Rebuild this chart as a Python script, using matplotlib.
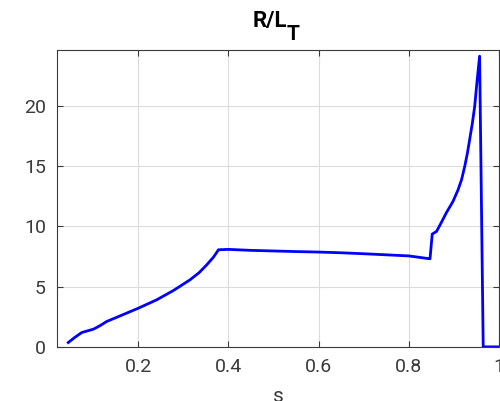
import matplotlib
matplotlib.use("Agg")
import matplotlib.pyplot as plt

# normalised radius and temperature gradient profile
s = [0.045, 0.060, 0.075, 0.101, 0.115, 0.130, 0.160, 0.200, 0.241, 0.278,
     0.315, 0.335, 0.352, 0.367, 0.378, 0.40, 0.45, 0.50, 0.55, 0.60,
     0.65, 0.70, 0.75, 0.80, 0.847, 0.852, 0.8615, 0.872, 0.883, 0.898,
     0.909, 0.917, 0.924, 0.930, 0.935, 0.941, 0.946, 0.951, 0.957, 0.965,
     0.98, 0.998]
rlt = [0.36, 0.8, 1.19, 1.47, 1.75, 2.1, 2.57, 3.2, 3.9, 4.67,
       5.56, 6.15, 6.8, 7.44, 8.05, 8.08, 8.0, 7.95, 7.9, 7.86,
       7.8, 7.72, 7.63, 7.54, 7.3, 9.35, 9.57, 10.3, 11.1, 12.06,
       13.0, 13.86, 14.96, 16.07, 17.2, 18.56, 19.9, 21.9, 24.1, 0.0,
       0.0, 0.0]

xticks = [0.2, 0.4, 0.6, 0.8, 1.0]
xticklabels = ["0.2", "0.4", "0.6", "0.8", "1"]
yticks = [0, 5, 10, 15, 20]

plt.rcParams['font.family'] = ['Roboto', 'DejaVu Sans']
axcol = '#3a3a3a'

W, H = 500, 401
fig = plt.figure(figsize=(W / 100, H / 100), dpi=100)
ax = fig.add_axes([0.114, 0.135, 0.884, 0.74])
ax.plot(s, rlt, color='#0000ff', linewidth=2.0)

ax.set_xlim(0.02, 1.0)
ax.set_ylim(0, 24.6)
ax.set_xticks(xticks)
ax.set_xticklabels(xticklabels)
ax.set_yticks(yticks)
ax.grid(True, color='#dcdcdc', linewidth=0.8)
ax.set_axisbelow(True)
ax.tick_params(direction='in', top=True, right=True, length=4,
               labelsize=14, colors=axcol, pad=8)
for sp in ax.spines.values():
    sp.set_color(axcol)
    sp.set_linewidth(0.8)

# title with a full-size, dropped subscript
fig.text(253 / W, 1 - 26.7 / H, 'R/L', fontsize=16, fontweight='bold',
         ha='left', va='baseline')
fig.text(287 / W, 1 - 40 / H, 'T', fontsize=15, fontweight='bold',
         ha='left', va='baseline')
ax.set_xlabel('s', fontsize=15, color=axcol, labelpad=8)

fig.savefig('out.png', dpi=100)
